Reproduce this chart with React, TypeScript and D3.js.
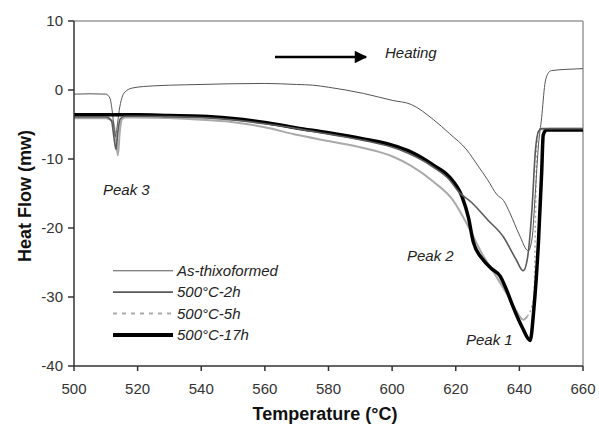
import React from "react";
import * as d3 from "d3";

const xTicks = [500, 520, 540, 560, 580, 600, 620, 640, 660];
const yTicks = [10, 0, -10, -20, -30, -40];

const seriesNames = ["As-thixoformed", "500°C-2h", "500°C-5h", "500°C-17h"];

// [temperature, heat flow]
const asThix: [number, number][] = [
  [500, -0.6], [505, -0.55], [510, -0.6], [511.3, -1.2], [512, -3], [512.6, -5.5], [513, -6.8],
  [513.5, -5.5], [514.2, -3], [515, -1.2], [516, -0.3], [518.5, 0.3], [525, 0.6], [535, 0.75],
  [549, 0.9], [560, 0.95], [570, 0.8], [575, 0.7], [580, 0.4], [591, -0.5], [600, -1.5],
  [606, -2.1], [613, -4.3], [618, -6.3], [623.5, -8.7], [627, -11], [630, -13], [633, -15.2],
  [635, -16], [637, -17.8], [640, -21], [642.8, -23.3], [644, -21.5], [645, -15], [646, -8],
  [647, -4], [648, 0.8], [649, 2.4], [650, 2.8], [655, 3.0], [660, 3.1],
];
const h2: [number, number][] = [
  [500, -3.9], [505, -3.9], [510, -3.9], [511.8, -4.5], [512.6, -7], [513.2, -8.6], [513.8, -6],
  [514.5, -4.2], [516, -3.8], [520, -3.8], [540, -4.0], [549, -4.3], [560, -4.9], [570, -5.6],
  [580, -6.4], [591, -7.3], [602, -8.6], [613, -11.2], [618, -13], [621, -14.8], [625, -16.3],
  [630, -18.8], [635, -21.3], [639, -24.6], [641.2, -26.2], [642.5, -24.5], [644, -17],
  [645, -9], [646, -6], [647, -5.6], [655, -5.6], [660, -5.6],
];
const h5: [number, number][] = [
  [500, -4.1], [505, -4.1], [510, -4.1], [512.2, -4.5], [513.2, -7.2], [513.8, -9.5], [514.4, -6],
  [515, -4.3], [516, -4.0], [520, -4.0], [540, -4.3], [549, -4.6], [560, -5.4], [570, -6.5],
  [580, -7.4], [591, -8.4], [600, -9.6], [606, -11], [613, -13.3], [619, -15.9], [624.5, -20.3],
  [628, -23.5], [632, -26.5], [636, -29.5], [639, -32], [641.2, -33.3], [642.5, -32.8],
  [644.6, -30], [645, -20], [645.5, -8], [646.2, -5.7], [650, -5.6], [660, -5.6],
];
const h17: [number, number][] = [
  [500, -3.6], [510, -3.6], [520, -3.6], [530, -3.7], [540, -3.8], [549, -4.1], [560, -4.7],
  [570, -5.5], [580, -6.2], [591, -7.1], [600, -8.0], [606, -9], [613, -10.9], [618, -12.6],
  [622, -15.5], [624, -18.5], [625.5, -22], [628.6, -24.6], [631, -25.8], [634, -27], [636, -29],
  [638, -31.4], [641, -34.5], [643.4, -36.3], [644.5, -32], [646, -22], [647, -12], [647.5, -6.5],
  [648.5, -5.8], [655, -5.8], [660, -5.8],
];

const W = 599;
const H = 431;

export default function App() {
  const x = d3.scaleLinear().domain([500, 660]).range([74, 583]);
  const y = d3.scaleLinear().domain([-40, 10]).range([366, 21]);
  const line = d3
    .line<[number, number]>()
    .x((d) => x(d[0]))
    .y((d) => y(d[1]))
    .curve(d3.curveMonotoneX);

  const h5Split = h5.findIndex((d) => d[0] >= 642.5);
  const h5End = h5.findIndex((d) => d[0] >= 646.2);
  const h5Solid = h5.slice(0, h5Split + 1);
  const h5Dash = h5.slice(h5Split, h5End + 1);
  const h5Tail = h5.slice(h5End);

  const font = "'Liberation Sans', Arial, sans-serif";
  const styles = [
    { stroke: "#555", width: 1, dash: undefined as string | undefined },
    { stroke: "#5a5a5a", width: 1.6, dash: undefined },
    { stroke: "#aaa", width: 2, dash: "4,5" },
    { stroke: "#000", width: 4, dash: undefined },
  ];
  const legendY = [-26.2, -29.3, -32.4, -35.5];

  return (
    <div style={{ position: "absolute", left: 0, top: 0 }}>
      <svg width={W} height={H} style={{ display: "block", background: "#fff" }} fontFamily={font}>
        {/* frame */}
        <line x1={x(500)} x2={x(660)} y1={y(10)} y2={y(10)} stroke="#999" strokeWidth={1.5} />
        <line x1={x(660)} x2={x(660)} y1={y(10)} y2={y(-40)} stroke="#999" strokeWidth={1.5} />

        {/* series */}
        <path d={line(h5Solid) ?? ""} fill="none" stroke={styles[2].stroke} strokeWidth={2} />
        <path d={line(h5Dash) ?? ""} fill="none" stroke={styles[2].stroke} strokeWidth={1.5} strokeDasharray="2,3" />
        <path d={line(h5Tail) ?? ""} fill="none" stroke={styles[2].stroke} strokeWidth={2} />
        <path d={line(asThix) ?? ""} fill="none" stroke={styles[0].stroke} strokeWidth={styles[0].width} />
        <path d={line(h17) ?? ""} fill="none" stroke={styles[3].stroke} strokeWidth={3.5} strokeLinejoin="round" />
        <path d={line(h2) ?? ""} fill="none" stroke={styles[1].stroke} strokeWidth={styles[1].width} />

        {/* axes */}
        <line x1={x(500)} x2={x(500)} y1={y(10)} y2={y(-40)} stroke="#333" strokeWidth={1.5} />
        <line x1={x(500)} x2={x(660)} y1={y(-40)} y2={y(-40)} stroke="#333" strokeWidth={1.5} />
        {yTicks.map((t) => (
          <g key={"y" + t}>
            <line x1={x(500) - 6} x2={x(500)} y1={y(t)} y2={y(t)} stroke="#333" strokeWidth={1.5} />
            <text x={63} y={y(t)} dy="0.35em" textAnchor="end" fontSize={15} fill="#333">
              {t}
            </text>
          </g>
        ))}
        {xTicks.map((t) => (
          <g key={"x" + t}>
            <line x1={x(t)} x2={x(t)} y1={y(-40)} y2={y(-40) + 5} stroke="#333" strokeWidth={1.5} />
            <text x={x(t)} y={394} textAnchor="middle" fontSize={15} fill="#333">
              {t}
            </text>
          </g>
        ))}

        {/* titles */}
        <text x={325} y={420} textAnchor="middle" fontSize={18} fontWeight="bold" fill="#111">
          Temperature (°C)
        </text>
        <text
          transform={`translate(31,${196}) rotate(-90)`}
          textAnchor="middle"
          fontSize={18}
          fontWeight="bold"
          fill="#111"
        >
          Heat Flow (mw)
        </text>

        {/* legend */}
        {seriesNames.map((n, i) => (
          <g key={n}>
            <line
              x1={113}
              x2={173}
              y1={y(legendY[i])}
              y2={y(legendY[i])}
              stroke={styles[i].stroke}
              strokeWidth={i === 3 ? 4 : styles[i].width}
              strokeDasharray={styles[i].dash}
            />
            <text x={177} y={y(legendY[i])} dy="0.35em" fontSize={15} fontStyle="italic" fill="#222">
              {n}
            </text>
          </g>
        ))}

        {/* annotations */}
        <defs>
          <marker id="ah" viewBox="0 0 10 10" refX="9" refY="5" markerWidth="7" markerHeight="5" orient="auto" markerUnits="strokeWidth">
            <path d="M0,0 L10,5 L0,10 Z" fill="#000" />
          </marker>
        </defs>
        <line x1={275} x2={366} y1={57} y2={57} stroke="#000" strokeWidth={2.5} markerEnd="url(#ah)" />
        <text x={385} y={58} fontSize={15} fontStyle="italic" fill="#222">Heating</text>
        <text x={103} y={195} fontSize={15} fontStyle="italic" fill="#222">Peak 3</text>
        <text x={407} y={261} fontSize={15} fontStyle="italic" fill="#222">Peak 2</text>
        <text x={466} y={345} fontSize={15} fontStyle="italic" fill="#222">Peak 1</text>
      </svg>
    </div>
  );
}
